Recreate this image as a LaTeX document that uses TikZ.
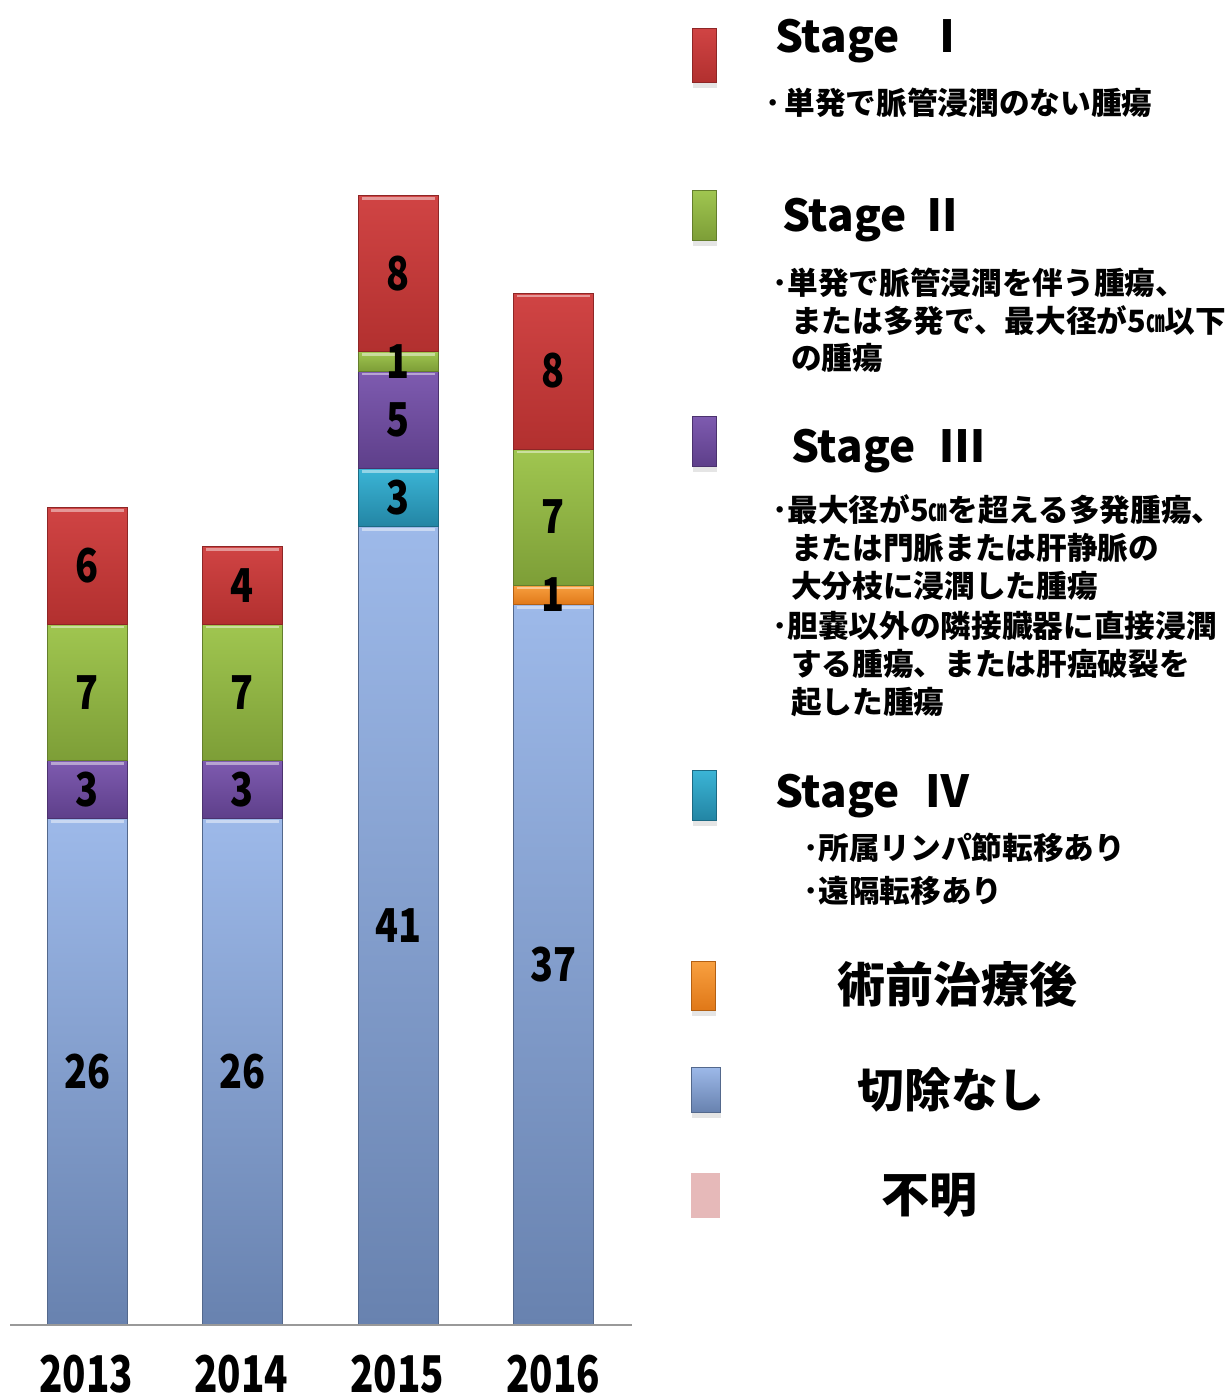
\documentclass[tikz,border=0pt]{standalone}
\usepackage{fontspec}
\newfontfamily\jp{Noto Sans CJK JP}
\pgfdeclarelayer{fg}
\pgfsetlayers{main,fg}
\definecolor{bluetop}{HTML}{9DB9E9}
\definecolor{bluebot}{HTML}{6882AF}
\definecolor{redtop}{HTML}{D04444}
\definecolor{redbot}{HTML}{B2302F}
\definecolor{greentop}{HTML}{A0C650}
\definecolor{greenbot}{HTML}{7D9E37}
\definecolor{purptop}{HTML}{7E5BB0}
\definecolor{purpbot}{HTML}{5E3F8A}
\definecolor{tealtop}{HTML}{3BB5D6}
\definecolor{tealbot}{HTML}{2385A4}
\definecolor{orgtop}{HTML}{F8A040}
\definecolor{orgbot}{HTML}{E07818}
\definecolor{pinkc}{HTML}{E6B9B9}
\tikzset{
  seg/.style={top color=#1top, bottom color=#1bot, draw=#1bot!80!black, line width=0.5pt},
  barlbl/.style={font={\jp\bfseries\fontsize{35}{35}\selectfont}, inner sep=0pt},
  yearlbl/.style={font={\jp\bfseries\fontsize{38}{38}\selectfont}, inner sep=0pt, anchor=base},
  stg/.style={font={\jp\bfseries\fontsize{33}{33}\selectfont}, inner sep=0pt},
  bod/.style={font={\jp\bfseries\fontsize{23}{23}\selectfont}, inner sep=0pt, anchor=west},
  biglbl/.style={font={\jp\bfseries\fontsize{36}{36}\selectfont}, inner sep=0pt},
  axisln/.style={draw=black!40, line width=1.2pt},
  shadowbox/.style={fill=black, opacity=0.10},
}
\newcommand{\cmsq}{\scalebox{0.6}[1]{㎝}}
\newcommand{\narrow}[1]{\scalebox{0.81}[1]{#1}}
\newcommand{\narrowyr}[1]{\scalebox{0.76}[1]{#1}}
\newcommand{\stackseg}[4]{%
  \pgfmathsetmacro{\newy}{\cury-#3*19.47}%
  \path[seg=#2] (#1,\cury) rectangle ({#1+80.5},\newy);%
  \draw[white,opacity=0.45,line width=2pt] ({#1+4},{\newy+3}) -- ({#1+76.5},{\newy+3});%
  \begin{pgfonlayer}{fg}%
  \node[barlbl] (#4) at ({#1+40.25},{(\cury+\newy)/2}) {\narrow{#3}};%
  \end{pgfonlayer}%
  \global\let\cury\newy}
\begin{document}
\begin{tikzpicture}[x=0.75pt,y=-0.75pt]
\useasboundingbox (0,0) rectangle (1227,1400);
\fill[white] (0,0) rectangle (1227,1400);
% bars
\def\cury{1325}
\stackseg{47}{blue}{26}{b13a}
\stackseg{47}{purp}{3}{b13b}
\stackseg{47}{green}{7}{b13c}
\stackseg{47}{red}{6}{b13d}
\def\cury{1325}
\stackseg{202}{blue}{26}{b14a}
\stackseg{202}{purp}{3}{b14b}
\stackseg{202}{green}{7}{b14c}
\stackseg{202}{red}{4}{b14d}
\def\cury{1325}
\stackseg{358}{blue}{41}{b15a}
\stackseg{358}{teal}{3}{b15b}
\stackseg{358}{purp}{5}{b15c}
\stackseg{358}{green}{1}{b15d}
\stackseg{358}{red}{8}{b15e}
\def\cury{1325}
\stackseg{513}{blue}{37}{b16a}
\stackseg{513}{org}{1}{b16b}
\stackseg{513}{green}{7}{b16c}
\stackseg{513}{red}{8}{b16d}
% axis
\coordinate (axL) at (10,1325);
\coordinate (axR) at (632,1325);
\draw[axisln] (axL) -- (axR);
% years
\node[yearlbl] (y13) at (86,1392) {\narrowyr{2013}};
\node[yearlbl] (y14) at (241,1392) {\narrowyr{2014}};
\node[yearlbl] (y15) at (397,1392) {\narrowyr{2015}};
\node[yearlbl] (y16) at (553,1392) {\narrowyr{2016}};
% legend swatches
\fill[shadowbox] (693,83) rectangle (717,88);
\path[seg=red] (692,28) rectangle (716,82);
\fill[shadowbox] (693,241) rectangle (717,246);
\path[seg=green] (692,190) rectangle (716,240);
\fill[shadowbox] (693,467) rectangle (717,472);
\path[seg=purp] (692,416) rectangle (716,466);
\fill[shadowbox] (693,821) rectangle (717,826);
\path[seg=teal] (692,770) rectangle (716,820);
\fill[shadowbox] (692,1011) rectangle (716,1016);
\path[seg=org] (691,961) rectangle (715,1010);
\fill[shadowbox] (692,1113) rectangle (721,1118);
\path[seg=blue] (691,1067) rectangle (720,1112);
\fill[pinkc] (691,1173) rectangle (720,1218);
% legend texts
\node[stg, anchor=base west] (st1) at (775,52) {Stage};
\node[stg, anchor=base] (nm1) at (947,52) {Ⅰ};
\node[bod] (d1a) at (765,103) {･\hspace{3pt}単発で脈管浸潤のない腫瘍};
\node[stg, anchor=base west] (st2) at (782,231) {Stage};
\node[stg, anchor=base] (nm2) at (942,231) {Ⅱ};
\node[bod] (d2a) at (772,283) {･単発で脈管浸潤を伴う腫瘍、};
\node[bod] (d2b) at (791,321) {または多発で、最大径が5\cmsq 以下};
\node[bod] (d2c) at (791,358) {の腫瘍};
\node[stg, anchor=base west] (st3) at (791,462) {Stage};
\node[stg, anchor=base] (nm3) at (962,462) {Ⅲ};
\node[bod] (d3a) at (772,510) {･最大径が5\cmsq を超える多発腫瘍、};
\node[bod] (d3b) at (791,548) {または門脈または肝静脈の};
\node[bod] (d3c) at (791,586) {大分枝に浸潤した腫瘍};
\node[bod] (d3d) at (772,626) {･胆嚢以外の隣接臓器に直接浸潤};
\node[bod] (d3e) at (791,664) {する腫瘍、または肝癌破裂を};
\node[bod] (d3f) at (791,702) {起した腫瘍};
\node[stg, anchor=base west] (st4) at (775,807) {Stage};
\node[stg, anchor=base] (nm4) at (947,807) {Ⅳ};
\node[bod] (d4a) at (803,848) {･所属リンパ節転移あり};
\node[bod] (d4b) at (803,891) {･遠隔転移あり};
\node[biglbl] (l5) at (957,984) {術前治療後};
\node[biglbl, font={\jp\bfseries\fontsize{35}{35}\selectfont}] (l6) at (951,1090) {切除なし};
\node[biglbl] (l7) at (929,1195) {不明};
\end{tikzpicture}
\end{document}
